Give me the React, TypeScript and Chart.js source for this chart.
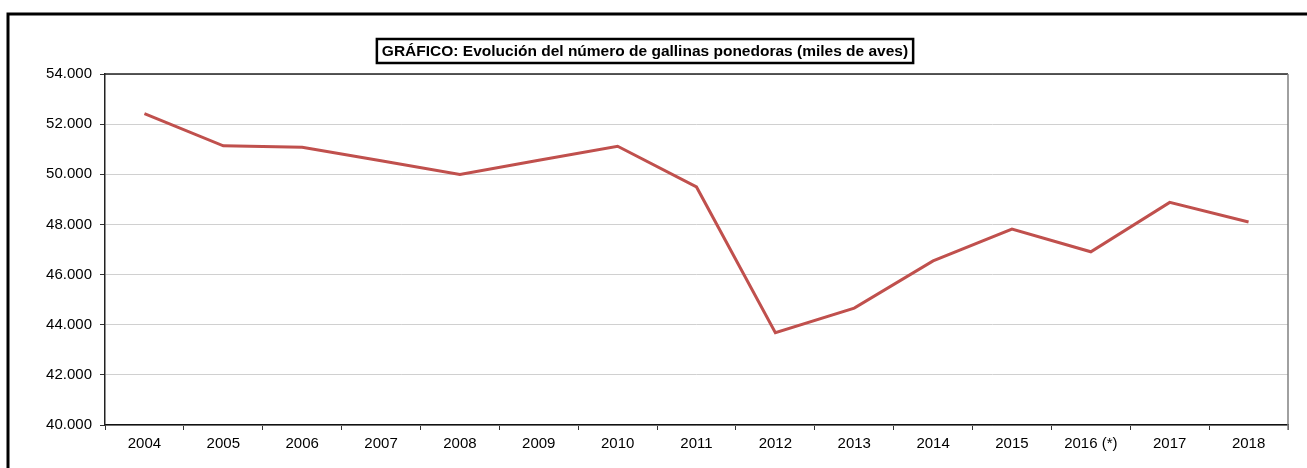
import React, { useEffect, useRef } from "react";
import { Chart, registerables } from "chart.js";

Chart.register(...registerables);

const categories = ["2004", "2005", "2006", "2007", "2008", "2009", "2010", "2011", "2012", "2013", "2014", "2015", "2016 (*)", "2017", "2018"];
const hens = [52420, 51136, 51080, 50540, 49990, 50560, 51120, 49496, 43680, 44664, 46544, 47816, 46908, 48880, 48096];
const titleText = "GRÁFICO: Evolución del número de gallinas ponedoras (miles de aves)";
const yMin = 40000;
const yMax = 54000;
const yStep = 2000;

const fmt = (v: number) => String(v).replace(/\B(?=(\d{3})+(?!\d))/g, ".");

const decor = {
  id: "decor",
  afterDraw(chart: any) {
    const { ctx, chartArea } = chart;
    ctx.save();
    // outer frame
    ctx.strokeStyle = "#000";
    ctx.lineWidth = 3;
    ctx.strokeRect(8, 14, 1400, 600);
    // plot area top and right borders
    ctx.lineWidth = 1.5;
    ctx.strokeStyle = "#222";
    ctx.beginPath();
    ctx.moveTo(chartArea.left, chartArea.top);
    ctx.lineTo(chartArea.right, chartArea.top);
    ctx.stroke();
    ctx.strokeStyle = "#808080";
    ctx.beginPath();
    ctx.moveTo(chartArea.right, chartArea.top);
    ctx.lineTo(chartArea.right, chartArea.bottom + 5);
    ctx.stroke();
    // title box
    ctx.font = "bold 15.5px 'Liberation Sans', Arial, sans-serif";
    const w = ctx.measureText(titleText).width;
    const cx = 645;
    const cy = 51;
    ctx.fillStyle = "#fff";
    ctx.fillRect(cx - w / 2 - 5, cy - 12, w + 10, 24);
    ctx.lineWidth = 2.5;
    ctx.strokeStyle = "#000";
    ctx.strokeRect(cx - w / 2 - 5, cy - 12, w + 10, 24);
    ctx.fillStyle = "#000";
    ctx.textAlign = "center";
    ctx.textBaseline = "middle";
    ctx.fillText(titleText, cx, cy + 1);
    ctx.restore();
  },
};

export default function App() {
  const ref = useRef<HTMLCanvasElement>(null);
  useEffect(() => {
    document.body.style.margin = "0";
    const chart = new Chart(ref.current!, {
      type: "line",
      data: {
        labels: categories,
        datasets: [
          {
            data: hens,
            borderColor: "#C0504D",
            borderWidth: 3,
            pointRadius: 0,
            tension: 0,
            fill: false,
          },
        ],
      },
      options: {
        animation: false,
        responsive: false,
        maintainAspectRatio: false,
        layout: { padding: { left: 0, right: 19, top: 74, bottom: 0 } },
        plugins: { legend: { display: false }, tooltip: { enabled: false }, title: { display: false } },
        scales: {
          x: {
            offset: true,
            grid: {
              offset: true,
              drawOnChartArea: false,
              drawTicks: true,
              tickLength: 5,
              tickColor: "#333",
            },
            border: { display: true, color: "#111", width: 1.5 },
            ticks: {
              color: "#000",
              font: { family: "'Liberation Sans', Arial, sans-serif", size: 15 },
              maxRotation: 0,
              autoSkip: false,
              padding: 5,
            },
            afterFit(scale: any) {
              scale.height = 43;
            },
          },
          y: {
            min: yMin,
            max: yMax,
            grid: {
              color: "#d0d0d0",
              lineWidth: 1,
              drawTicks: true,
              tickLength: 5,
              tickColor: "#333",
            },
            border: { display: true, color: "#222", width: 1.5 },
            ticks: {
              stepSize: yStep,
              color: "#000",
              font: { family: "'Liberation Sans', Arial, sans-serif", size: 15 },
              padding: 8,
              callback: (v: any) => fmt(Number(v)),
            },
            afterFit(scale: any) {
              scale.width = 105;
            },
          },
        },
      },
      plugins: [decor],
    });
    return () => chart.destroy();
  }, []);
  return <canvas ref={ref} width={1307} height={468} style={{ display: "block" }} />;
}
